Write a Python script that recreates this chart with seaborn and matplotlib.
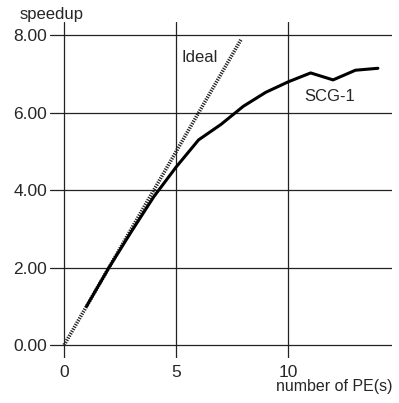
import numpy as np
import pandas as pd
import matplotlib
matplotlib.use("Agg")
import matplotlib.pyplot as plt
import seaborn as sns

# data
pe = [1, 2, 3, 4, 5, 6, 7, 8, 9, 10, 11, 12, 13, 14]
scg1 = [1.0, 2.0, 2.93, 3.83, 4.6, 5.3, 5.7, 6.17, 6.53, 6.8, 7.03, 6.85, 7.1, 7.15]
ideal_pe = [0, 7.9]
ideal_speedup = [0, 7.9]
xticks = [0, 5, 10]
yticks = [0, 2, 4, 6, 8]

sns.set_style("white")
plt.rcParams['font.family'] = ['Liberation Sans', 'DejaVu Sans']

W, H = 399, 403
fig = plt.figure(figsize=(W / 100, H / 100), dpi=100)
ax = fig.add_axes([50 / W, (H - 358) / H, 342 / W, 336 / H])

scg = pd.DataFrame({"pe": pe, "speedup": scg1})
ide = pd.DataFrame({"pe": ideal_pe, "speedup": ideal_speedup})

sns.lineplot(data=ide, x="pe", y="speedup", ax=ax, color="#222222",
             lw=2.6, linestyle=(0, (0.35, 0.35)))
sns.lineplot(data=scg, x="pe", y="speedup", ax=ax, color="black", lw=2.2)

ax.set_xlim(-0.63, 14.63)
ax.set_ylim(-0.336, 8.346)
ax.set_xticks(xticks)
ax.set_yticks(yticks)
ax.set_xticklabels([str(t) for t in xticks], fontsize=12.5)
ax.set_yticklabels([f"{t:.2f}" for t in yticks], fontsize=12.5)
ax.tick_params(axis='x', length=0, pad=5)
ax.tick_params(axis='y', length=0, pad=2)
ax.set_xlabel("")
ax.set_ylabel("")
for s in ax.spines.values():
    s.set_visible(False)
ax.grid(True, color="#222222", lw=0.9)

ax.text(5.22, 7.42, "Ideal", fontsize=12, va="center", ha="left")
ax.text(10.7, 6.41, "SCG-1", fontsize=12, va="center", ha="left")

fig.text(20 / W, 1 - 15 / H, "speedup", fontsize=12, va="center", ha="left")
fig.text(392 / W, 1 - 387 / H, "number of PE(s)", fontsize=11.5, va="center", ha="right")

fig.savefig("out.png", dpi=100)
